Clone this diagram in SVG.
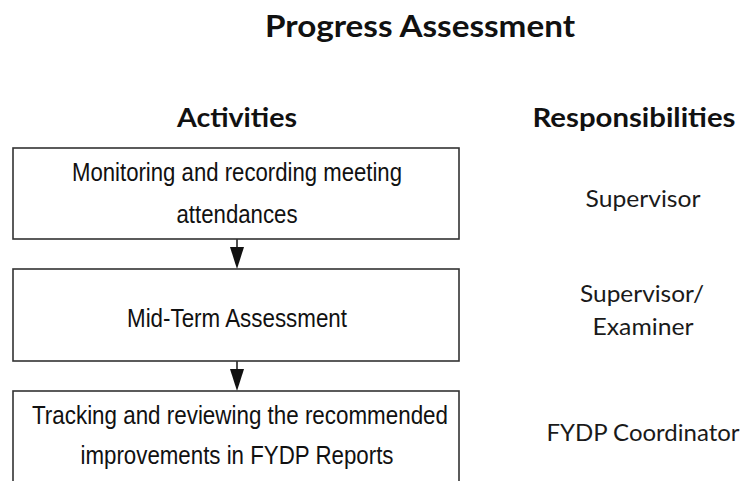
<svg xmlns="http://www.w3.org/2000/svg" width="744" height="481" viewBox="0 0 744 481">
<style>
.h{font-family:Lato,"Open Sans",sans-serif;font-weight:bold;fill:#111;text-anchor:middle}
.r{font-family:Lato,"Open Sans",sans-serif;font-size:23.5px;fill:#1a1a1a;text-anchor:middle}
.a{font-family:"Liberation Sans",Arial,sans-serif;font-size:26px;fill:#111;text-anchor:middle}
.box{fill:#fff;stroke:#333;stroke-width:1.6}
.c{stroke:#222;stroke-width:1.6;fill:none}
.hd{fill:#111;stroke:none}
</style>
<rect width="744" height="481" fill="#fff"/>
<g id="titles">
<text class="h" x="420" y="37" font-size="29.5" textLength="310" lengthAdjust="spacingAndGlyphs">Progress Assessment</text>
<text class="h" x="237" y="127" font-size="26.5" textLength="120" lengthAdjust="spacingAndGlyphs">Activities</text>
<text class="h" x="634" y="127" font-size="26.5" textLength="203" lengthAdjust="spacingAndGlyphs">Responsibilities</text>
</g>
<g id="connectors">
<line class="c" x1="237" y1="239" x2="237" y2="250"/>
<polygon class="hd" points="230,247 244,247 237,269"/>
<line class="c" x1="237" y1="361" x2="237" y2="372"/>
<polygon class="hd" points="230,369 244,369 237,391"/>
</g>
<g id="n1">
<rect class="box" x="13" y="148" width="446" height="91"/>
<text class="a" x="237" y="181" textLength="330" lengthAdjust="spacingAndGlyphs">Monitoring and recording meeting</text>
<text class="a" x="237" y="223" textLength="121" lengthAdjust="spacingAndGlyphs">attendances</text>
</g>
<g id="n2">
<rect class="box" x="13" y="269" width="446" height="92"/>
<text class="a" x="237" y="327" textLength="220" lengthAdjust="spacingAndGlyphs">Mid-Term Assessment</text>
</g>
<g id="n3">
<rect class="box" x="13" y="391" width="446" height="100"/>
<text class="a" x="240" y="424" textLength="416" lengthAdjust="spacingAndGlyphs">Tracking and reviewing the recommended</text>
<text class="a" x="237" y="464" textLength="313" lengthAdjust="spacingAndGlyphs">improvements in FYDP Reports</text>
</g>
<g id="r1"><text class="r" x="643" y="207" textLength="115" lengthAdjust="spacingAndGlyphs">Supervisor</text></g>
<g id="r2">
<text class="r" x="642" y="302" textLength="124" lengthAdjust="spacingAndGlyphs">Supervisor/</text>
<text class="r" x="643" y="335" textLength="101" lengthAdjust="spacingAndGlyphs">Examiner</text>
</g>
<g id="r3"><text class="r" x="643" y="441" textLength="193" lengthAdjust="spacingAndGlyphs">FYDP Coordinator</text></g>
</svg>
